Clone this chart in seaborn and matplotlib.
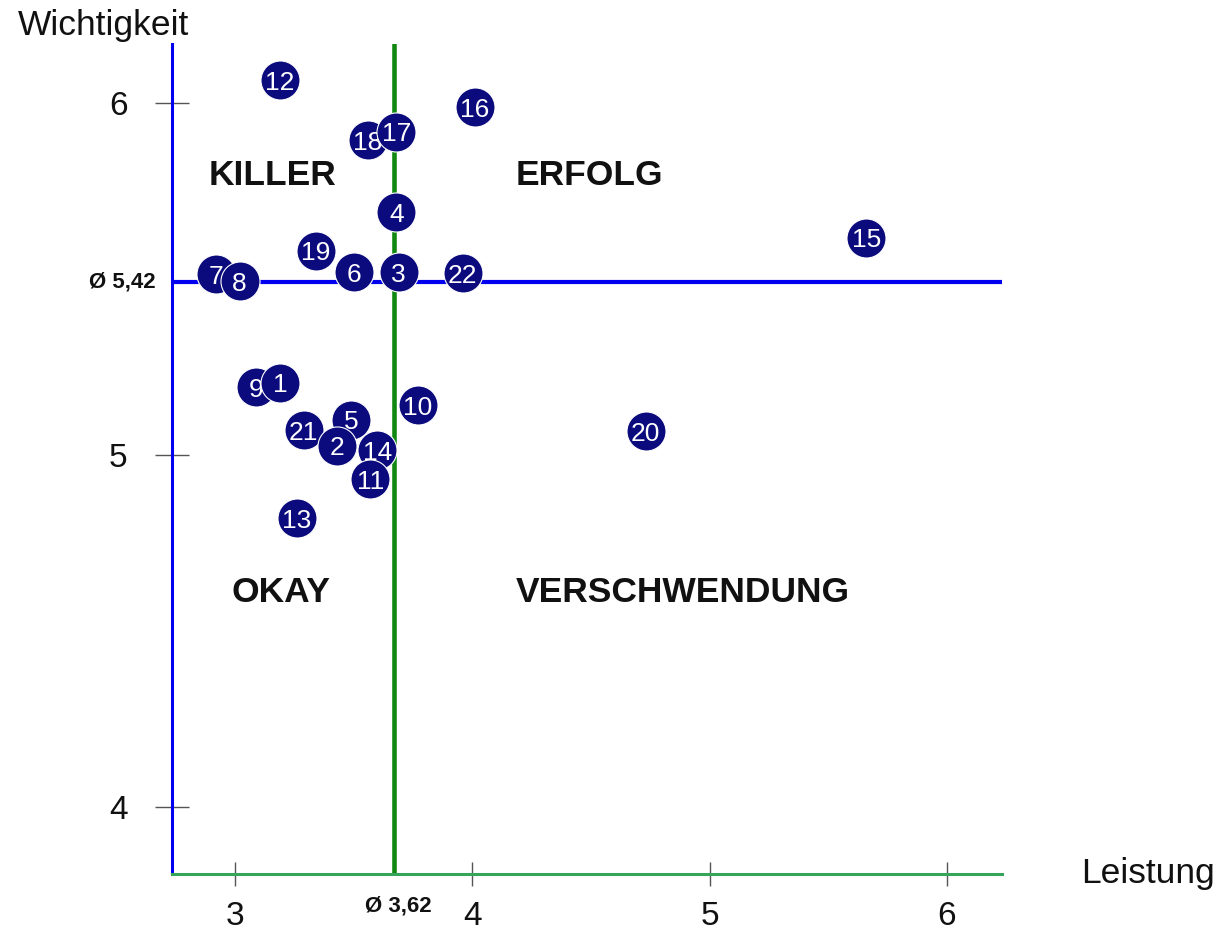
import matplotlib
matplotlib.use("Agg")
import matplotlib.pyplot as plt
import seaborn as sns
import pandas as pd

# ---- data ----
ids = [1, 2, 3, 4, 5, 6, 7, 8, 9, 10, 11, 12, 13, 14, 15, 16, 17, 18, 19, 20, 21, 22]
leistung = [3.19, 3.43, 3.69, 3.68, 3.49, 3.50, 2.92, 3.02, 3.09, 3.77, 3.57, 3.19,
            3.26, 3.60, 5.66, 4.01, 3.68, 3.56, 3.34, 4.73, 3.29, 3.96]
wichtigkeit = [5.205, 5.026, 5.52, 5.69, 5.10, 5.52, 5.514, 5.494, 5.193, 5.142, 4.932, 6.065,
               4.821, 5.014, 5.617, 5.989, 5.918, 5.895, 5.58, 5.068, 5.071, 5.517]
mean_line_x = 3.67    # drawn position of the average line (labelled Ø 3,62)
mean_line_y = 5.492   # drawn position of the average line (labelled Ø 5,42)
mean_label_x = "Ø 3,62"
mean_label_y = "Ø 5,42"
x_ticks = [3, 4, 5, 6]
y_ticks = [4, 5, 6]
quadrants = [("KILLER", 2.89, 5.795), ("ERFOLG", 4.184, 5.795),
             ("OKAY", 2.987, 4.611), ("VERSCHWENDUNG", 4.184, 4.611)]
draw_order = [22, 21, 20, 19, 18, 17, 16, 15, 14, 13, 12, 11, 10, 9, 7, 8, 6, 5, 3, 4, 2, 1]

df = pd.DataFrame({"id": ids, "Leistung": leistung, "Wichtigkeit": wichtigkeit})
df = df.set_index("id").loc[draw_order].reset_index()

sns.set_theme(style="white")
plt.rcParams["font.family"] = ["Liberation Sans", "DejaVu Sans"]

W, H = 1227, 931
fig = plt.figure(figsize=(W / 100, H / 100), dpi=100)
ax = fig.add_axes([172 / W, (H - 874) / H, 830 / W, 830 / H])

x0, x1 = 2.735, 6.232
y0, y1 = 3.810, 6.168
ax.set_xlim(x0, x1)
ax.set_ylim(y0, y1)

# average lines
ax.axhline(mean_line_y, color="#0000ee", lw=3.0, zorder=1)
ax.axvline(mean_line_x, color="#118811", lw=3.3, zorder=1)

navy = "#0b0b7d"
for k, row in enumerate(df.itertuples()):
    sns.scatterplot(x=[row.Leistung], y=[row.Wichtigkeit], ax=ax, s=790,
                    color=navy, edgecolor="white", linewidth=0.8,
                    zorder=4 + 2 * k, legend=False, clip_on=False)
    ax.text(row.Leistung, row.Wichtigkeit, str(row.id), color="white",
            fontsize=19, ha="center", va="center_baseline", zorder=5 + 2 * k)

for label, qx, qy in quadrants:
    ax.text(qx, qy, label, fontsize=25.5, fontweight="bold", ha="left",
            va="center", color="#111111")

ax.text(mean_line_x + 0.02, y0 - 0.09, mean_label_x, fontsize=16, fontweight="bold",
        ha="center", va="center", color="#111111")
ax.text(x0 - 0.21, mean_line_y, mean_label_y, fontsize=16, fontweight="bold",
        ha="center", va="center", color="#111111")

# spines
for s in ["top", "right"]:
    ax.spines[s].set_visible(False)
ax.spines["left"].set_color("#0000ee")
ax.spines["left"].set_linewidth(2.2)
ax.spines["bottom"].set_color("#35a55c")
ax.spines["bottom"].set_linewidth(2.2)

ax.set_xticks(x_ticks)
ax.set_yticks(y_ticks)
ax.set_xticklabels([str(t) for t in x_ticks])
ax.set_yticklabels([str(t) for t in y_ticks])
ax.tick_params(axis="y", direction="inout", length=24, width=1.0, color="#555555",
               pad=20, labelsize=24, labelcolor="#111111", left=True)
ax.tick_params(axis="x", direction="inout", length=17, width=1.0, color="#555555",
               pad=11, labelsize=24, labelcolor="#111111", bottom=True)
ax.set_xlabel("")
ax.set_ylabel("")
ax.grid(False)

fig.text(18 / W, 1 - 25 / H, "Wichtigkeit", fontsize=25.5, ha="left", va="center",
         color="#111111")
fig.text(1081 / W, 1 - 873 / H, "Leistung", fontsize=25.5, ha="left", va="center",
         color="#111111")

fig.savefig("out.png", dpi=100, facecolor="white")
